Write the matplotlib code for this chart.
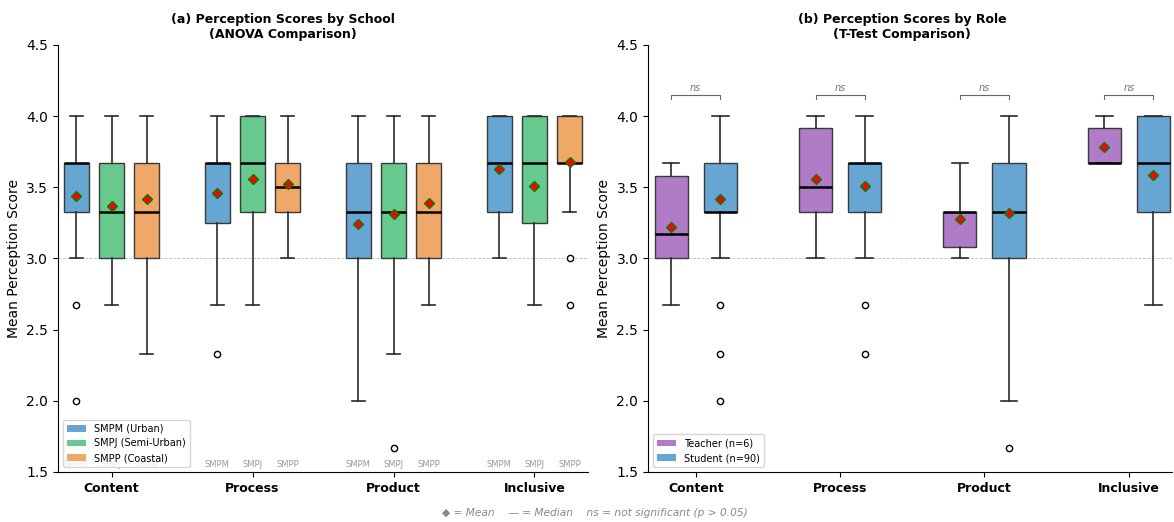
import matplotlib
matplotlib.use('Agg')
import matplotlib.pyplot as plt
from matplotlib.patches import Patch

categories = ['Content', 'Process', 'Product', 'Inclusive']
school_names = ['SMPM (Urban)', 'SMPJ (Semi-Urban)', 'SMPP (Coastal)']
school_short = ['SMPM', 'SMPJ', 'SMPP']
role_names = ['Teacher (n=6)', 'Student (n=90)']

# (whislo, q1, median, q3, whishi) for each category
smpm_box = [(3.0, 3.33, 3.67, 3.67, 4.0), (2.67, 3.25, 3.67, 3.67, 4.0),
            (2.0, 3.0, 3.33, 3.67, 4.0), (3.0, 3.33, 3.67, 4.0, 4.0)]
smpm_mean = [3.44, 3.46, 3.24, 3.63]
smpm_out = [[2.67, 2.0], [2.33], [], []]

smpj_box = [(2.67, 3.0, 3.33, 3.67, 4.0), (2.67, 3.33, 3.67, 4.0, 4.0),
            (2.33, 3.0, 3.33, 3.67, 4.0), (2.67, 3.25, 3.67, 4.0, 4.0)]
smpj_mean = [3.37, 3.56, 3.31, 3.51]
smpj_out = [[], [], [1.67], []]

smpp_box = [(2.33, 3.0, 3.33, 3.67, 4.0), (3.0, 3.33, 3.5, 3.67, 4.0),
            (2.67, 3.0, 3.33, 3.67, 4.0), (3.33, 3.67, 3.67, 4.0, 4.0)]
smpp_mean = [3.42, 3.52, 3.39, 3.68]
smpp_out = [[], [], [], [3.0, 2.67]]

teacher_box = [(2.67, 3.0, 3.17, 3.58, 3.67), (3.0, 3.33, 3.5, 3.92, 4.0),
               (3.0, 3.08, 3.33, 3.33, 3.67), (3.67, 3.67, 3.67, 3.92, 4.0)]
teacher_mean = [3.22, 3.56, 3.28, 3.78]
teacher_out = [[], [], [], []]

student_box = [(3.0, 3.33, 3.33, 3.67, 4.0), (3.0, 3.33, 3.67, 3.67, 4.0),
               (2.0, 3.0, 3.33, 3.67, 4.0), (2.67, 3.33, 3.67, 4.0, 4.0)]
student_mean = [3.42, 3.51, 3.32, 3.59]
student_out = [[2.67, 2.33, 2.0], [2.67, 2.33], [1.67], []]

school_colors = ['#67a6d3', '#67c98e', '#f0a868']
role_colors = ['#b07cc7', '#67a6d3']


def draw_boxes(ax, boxes, means, outs, pos, width, color):
    stats = []
    for b, m, o in zip(boxes, means, outs):
        stats.append(dict(whislo=b[0], q1=b[1], med=b[2], q3=b[3], whishi=b[4],
                          mean=m, fliers=o))
    ax.bxp(stats, positions=pos, widths=width, patch_artist=True, showmeans=True,
           boxprops=dict(facecolor=color, edgecolor='#3a3a3a', linewidth=1),
           medianprops=dict(color='black', linewidth=1.8),
           whiskerprops=dict(color='#2a2a2a', linewidth=1.2),
           capprops=dict(color='#2a2a2a', linewidth=1.2),
           flierprops=dict(marker='o', markerfacecolor='white',
                           markeredgecolor='black', markersize=4.5),
           meanprops=dict(marker='D', markerfacecolor='red',
                          markeredgecolor='green', markersize=5.5),
           manage_ticks=False)


def style_axes(ax, xlim):
    ax.set_xlim(*xlim)
    ax.set_ylim(1.5, 4.5)
    ax.set_xticks(range(len(categories)))
    ax.set_xticklabels(categories, fontweight='bold', fontsize=9)
    ax.set_yticks([1.5, 2.0, 2.5, 3.0, 3.5, 4.0, 4.5])
    ax.tick_params(axis='y', labelsize=10)
    ax.set_ylabel('Mean Perception Score', fontsize=10)
    ax.axhline(3.0, color='#bbbbbb', linestyle='--', linewidth=0.6, zorder=0)
    ax.spines['top'].set_visible(False)
    ax.spines['right'].set_visible(False)


fig = plt.figure(figsize=(11.74, 5.22), dpi=100)
ax1 = fig.add_axes([0.0494, 0.0958, 0.4515, 0.818])
ax2 = fig.add_axes([0.552, 0.0958, 0.4464, 0.818])

# (a) by school
offsets = [-0.25, 0.0, 0.25]
school_data = [(smpm_box, smpm_mean, smpm_out), (smpj_box, smpj_mean, smpj_out),
               (smpp_box, smpp_mean, smpp_out)]
for k, (bx, mn, ot) in enumerate(school_data):
    pos = [i + offsets[k] for i in range(len(categories))]
    draw_boxes(ax1, bx, mn, ot, pos, 0.18, school_colors[k])
    for p in pos:
        ax1.text(p, 1.55, school_short[k], ha='center', va='center',
                 fontsize=6, color='#999999')
style_axes(ax1, (-0.38, 3.38))
ax1.set_title('(a) Perception Scores by School\n(ANOVA Comparison)',
              fontsize=9, fontweight='bold', x=0.425, pad=5)
ax1.legend(handles=[Patch(facecolor=c, label=n) for c, n in zip(school_colors, school_names)],
           loc='lower left', fontsize=7)

# (b) by role
roff = [-0.17, 0.17]
role_data = [(teacher_box, teacher_mean, teacher_out), (student_box, student_mean, student_out)]
for k, (bx, mn, ot) in enumerate(role_data):
    pos = [i + roff[k] for i in range(len(categories))]
    draw_boxes(ax2, bx, mn, ot, pos, 0.23, role_colors[k])
style_axes(ax2, (-0.33, 3.3))
for i in range(len(categories)):
    ax2.plot([i + roff[0], i + roff[0], i + roff[1], i + roff[1]],
             [4.12, 4.15, 4.15, 4.12], color='#666666', linewidth=0.8)
    ax2.text(i, 4.165, 'ns', ha='center', va='bottom', fontsize=7,
             style='italic', color='#777777')
ax2.set_title('(b) Perception Scores by Role\n(T-Test Comparison)',
              fontsize=9, fontweight='bold', x=0.485, pad=5)
ax2.legend(handles=[Patch(facecolor=c, label=n) for c, n in zip(role_colors, role_names)],
           loc='lower left', fontsize=7)

fig.text(0.507, 0.017, '\u25c6 = Mean    \u2014 = Median    ns = not significant (p > 0.05)',
         ha='center', va='center', fontsize=7.7, style='italic', color='#888888')

fig.savefig('out.png', dpi=100)
